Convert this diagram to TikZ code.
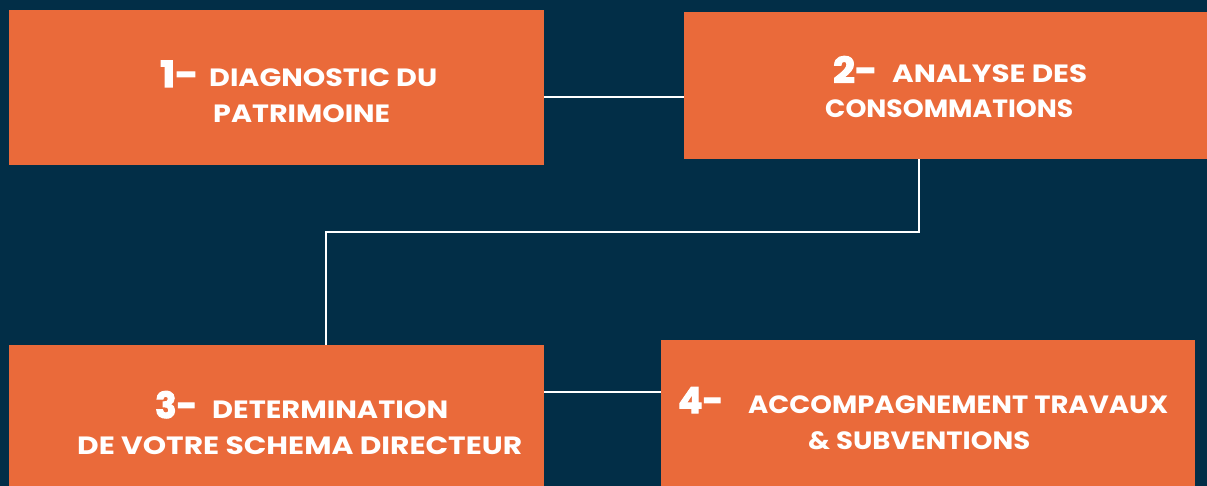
\documentclass[tikz,border=0pt]{standalone}
\usepackage{fontspec}
\usepackage{graphicx}
\setmainfont{Poppins}
\newfontfamily\numfont{Poppins}[UprightFeatures={FakeBold=3},BoldFeatures={FakeBold=3}]
\newcommand{\fitw}[2]{\resizebox{#1pt}{\height}{#2}}
\definecolor{bg}{HTML}{022E47}
\definecolor{orange}{HTML}{EA6A3A}
\tikzset{
  box/.style={fill=orange,draw=none,inner sep=0pt},
  lbl/.style={text=white,font=\fontsize{25}{28}\selectfont\bfseries,anchor=base west,inner sep=0pt},
  num/.style={text=white,font=\fontsize{36}{36}\selectfont\numfont\bfseries,anchor=base west,inner sep=0pt},
  link/.style={draw=white,line width=1.8pt}
}
\begin{document}
\begin{tikzpicture}[x=1pt,y=-1pt]
\fill[bg] (0,0) rectangle (1207,486);
\useasboundingbox (0,0) rectangle (1207,486);
\node[box,minimum width=535pt,minimum height=155pt] (b1) at (276.5,87.5) {};
\node[box,minimum width=523pt,minimum height=147pt] (b2) at (945.5,85.5) {};
\node[box,minimum width=535pt,minimum height=141pt] (b3) at (276.5,415.5) {};
\node[box,minimum width=534pt,minimum height=146pt] (b4) at (928,413) {};
% texts
\node[num] (n1) at (160,87) {\fitw{38}{1-}};
\node[lbl] (t1a) at (209,87) {\fitw{228}{DIAGNOSTIC DU}};
\node[lbl] (t1b) at (213,123) {\fitw{177}{PATRIMOINE}};
\node[num] (n2) at (833,83) {\fitw{44}{2-}};
\node[lbl] (t2a) at (892,83) {\fitw{195}{ANALYSE DES}};
\node[lbl] (t2b) at (825,118) {\fitw{248}{CONSOMMATIONS}};
\node[num] (n3) at (155,418) {\fitw{42}{3-}};
\node[lbl] (t3a) at (212,418) {\fitw{236}{DETERMINATION}};
\node[lbl] (t3b) at (77,454) {\fitw{445}{DE VOTRE SCHEMA DIRECTEUR}};
\node[num] (n4) at (678,413) {\fitw{45}{4-}};
\node[lbl] (t4a) at (748,413) {\fitw{420}{ACCOMPAGNEMENT TRAVAUX}};
\node[lbl] (t4b) at (808,449) {\fitw{222}{\& SUBVENTIONS}};
% connectors
\coordinate (k1) at (919,232);
\coordinate (k2) at (326,232);
\draw[link] (b1.east |- 0,97) -- (b2.west |- 0,97);
\draw[link] (b2.south -| k1) -- (k1) -- (k2) -- (b3.north -| k2);
\draw[link] (b3.east |- 0,392) -- (b4.west |- 0,392);
\end{tikzpicture}
\end{document}
